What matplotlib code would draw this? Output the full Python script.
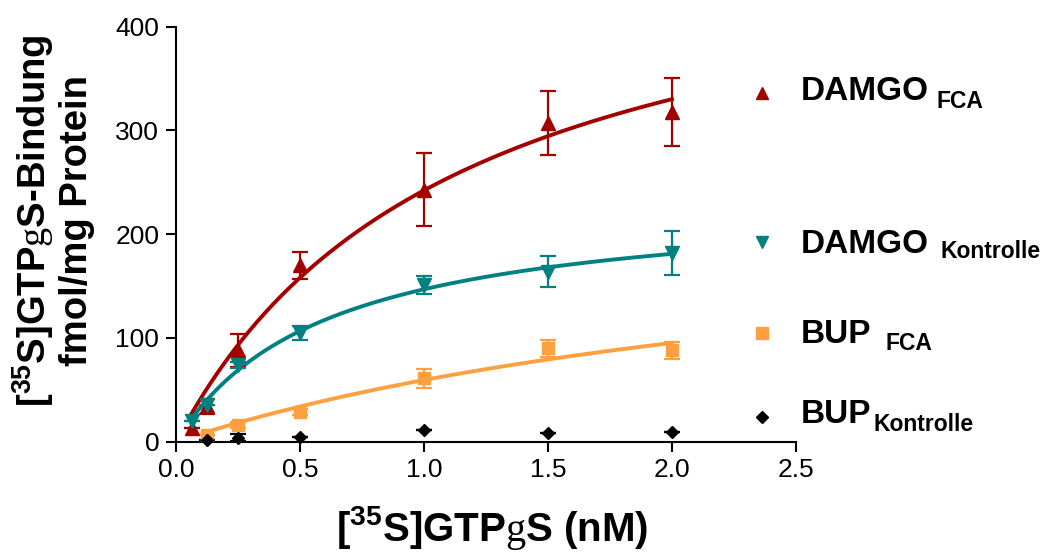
import numpy as np
import matplotlib
matplotlib.use("Agg")
import matplotlib.pyplot as plt
from matplotlib.lines import Line2D

plt.rcParams['font.family'] = 'Liberation Sans'
plt.rcParams['mathtext.fontset'] = 'custom'
plt.rcParams['mathtext.rm'] = 'Liberation Serif'
plt.rcParams['mathtext.bf'] = 'Liberation Sans:bold'
plt.rcParams['mathtext.it'] = 'Liberation Sans:italic'
plt.rcParams['mathtext.sf'] = 'Liberation Sans'

# [35S]GTPgS concentration (nM) and specific binding (fmol/mg protein), mean +- SEM
conc_all = [0.0625, 0.125, 0.25, 0.5, 1.0, 1.5, 2.0]
conc_bup = [0.125, 0.25, 0.5, 1.0, 1.5, 2.0]

damgo_fca = [13.5, 34, 88, 170, 243, 307, 318]
damgo_fca_err = [0, 7, 16, 13, 35, 31, 33]

damgo_ktr = [20, 35, 74, 105, 151, 164, 182]
damgo_ktr_err = [0, 0, 3, 7, 9, 15, 21]

bup_fca = [6.5, 16, 28.6, 61, 90, 88]
bup_fca_err = [0, 3, 3, 9, 8, 8]

bup_ktr = [2, 4, 4.5, 11, 8, 9.6]
bup_ktr_err = [0, 3, 0, 0, 0, 0]

series = [
    # x, y, err, marker, size, colour, fit curve, name, subscript
    (conc_all, damgo_fca, damgo_fca_err, '^', 9.5, '#A30000', True, 'DAMGO', 'FCA'),
    (conc_all, damgo_ktr, damgo_ktr_err, 'v', 9.5, '#008080', True, 'DAMGO', 'Kontrolle'),
    (conc_bup, bup_fca, bup_fca_err, 's', 8.5, '#FFA040', True, 'BUP', 'FCA'),
    (conc_bup, bup_ktr, bup_ktr_err, 'D', 6.3, '#000000', False, 'BUP', 'Kontrolle'),
]

# legend rows: marker centre / text baseline in figure pixels from top,
# gap and drop of the subscript in pixels
legend_marker_y = [93, 242, 333, 417]
legend_text_y = [100, 253, 343, 423]
legend_sub_gap = [7, 12, 14, 2]
legend_sub_drop = [8, 5, 7, 8]


def fit_hyperbola(x, y):
    """one-site binding, y = Bmax*x/(Kd+x), least squares over Kd"""
    x = np.asarray(x, float)
    y = np.asarray(y, float)
    best = None
    for kd in np.logspace(-2, 1.5, 4000):
        f = x / (kd + x)
        bmax = np.sum(y * f) / np.sum(f * f)
        sse = np.sum((y - bmax * f) ** 2)
        if best is None or sse < best[0]:
            best = (sse, bmax, kd)
    return best[1], best[2]


W, H = 1045, 554
fig = plt.figure(figsize=(W / 100, H / 100), dpi=100)
ax = fig.add_axes([176 / W, 1 - 441.7 / H, 620 / W, 415 / H])

for x, y, err, mk, ms, col, curve, name, sub in series:
    if curve:
        bmax, kd = fit_hyperbola(x, y)
        xs = np.linspace(min(x), max(x), 300)
        ax.plot(xs, bmax * xs / (kd + xs), color=col, lw=2.8, zorder=2)
    ax.errorbar(x, y, yerr=err, fmt=mk, ms=ms, color=col, mec=col,
                ecolor=col, elinewidth=1.6, capsize=5.5, capthick=1.6,
                clip_on=False, zorder=3)

ax.set_xlim(0, 2.5)
ax.set_ylim(0, 400)
ax.set_xticks([0, 0.5, 1.0, 1.5, 2.0, 2.5])
ax.set_xticklabels(['0.0', '0.5', '1.0', '1.5', '2.0', '2.5'])
ax.set_yticks([0, 100, 200, 300, 400])
for s in ['top', 'right']:
    ax.spines[s].set_visible(False)
for s in ['left', 'bottom']:
    ax.spines[s].set_linewidth(1.5)
ax.tick_params(axis='both', direction='out', length=7, width=1.5,
               labelsize=19, pad=5)

fig.text(53 / W, 1 - 221 / H,
         '[$^{\\mathbf{35}}$S]GTP$\\mathrm{g}$S-Bindung\nfmol/mg Protein',
         rotation=90, ha='center', va='center', fontsize=27.5,
         fontweight='bold', multialignment='center', linespacing=1.1)
fig.text(492 / W, 1 - 528 / H, '[$^{\\mathbf{35}}$S]GTP$\\mathrm{g}$S (nM)',
         ha='center', va='center', fontsize=29, fontweight='bold')

for i, (x, y, err, mk, ms, col, curve, name, sub) in enumerate(series):
    fig.add_artist(Line2D([762 / W], [1 - legend_marker_y[i] / H], marker=mk,
                          ms=ms * 0.95, color=col, mec=col, ls='none'))
    main = fig.text(801 / W, 1 - legend_text_y[i] / H, name, ha='left',
                    va='baseline', fontsize=24, fontweight='bold')
    fig.canvas.draw()
    bb = main.get_window_extent()
    fig.text((bb.x1 + legend_sub_gap[i]) / W,
             1 - (legend_text_y[i] + legend_sub_drop[i]) / H, sub,
             ha='left', va='baseline', fontsize=16.5, fontweight='bold')

fig.savefig('out.png', dpi=100)
